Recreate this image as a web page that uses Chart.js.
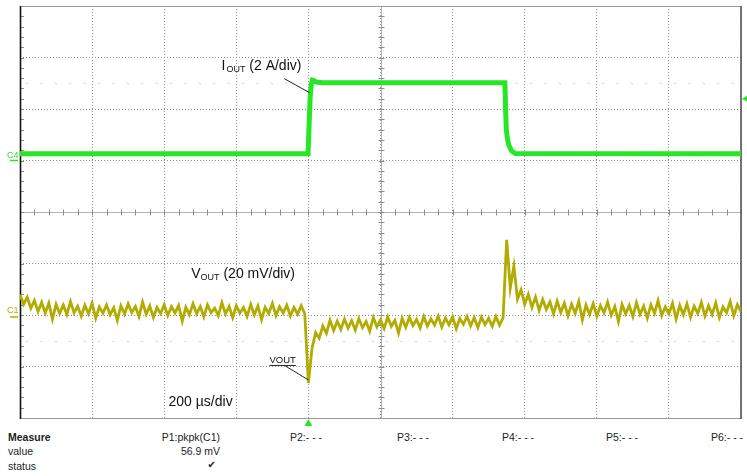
<!DOCTYPE html>
<html lang="en">
  <head>
    <meta charset="utf-8" />
    <title>Load transient</title>
    <script src="https://cdn.jsdelivr.net/npm/chart.js@4.4.1/dist/chart.umd.min.js"></script>
    <style>
      body {
        margin: 0;
        width: 747px;
        height: 476px;
        overflow: hidden;
        position: relative;
        background: #fff;
        font-family: "Liberation Sans", Arial, sans-serif;
      }
      #scope {
        position: absolute;
        left: 0;
        top: 0;
      }
      .m {
        position: absolute;
        font-size: 10.5px;
        line-height: 12px;
        color: #222;
        white-space: nowrap;
      }
      .r { text-align: right; }
    </style>
  </head>
  <body>
    <canvas id="scope" width="747" height="430"></canvas>

    <div class="m" style="left: 8px; top: 431px; font-weight: bold">Measure</div>
    <div class="m" style="left: 8px; top: 445px">value</div>
    <div class="m" style="left: 8px; top: 460px">status</div>
    <div class="m r" style="left: 140px; width: 80px; top: 431px">P1:pkpk(C1)</div>
    <div class="m r" style="left: 140px; width: 80px; top: 445px">56.9 mV</div>
    <div class="m r" style="left: 140px; width: 76px; top: 459px; font-family: 'DejaVu Sans'; font-size: 10px">&#10004;</div>
    <div class="m" style="left: 290px; top: 431px">P2:- - -</div>
    <div class="m" style="left: 397px; top: 431px">P3:- - -</div>
    <div class="m" style="left: 502px; top: 431px">P4:- - -</div>
    <div class="m" style="left: 606px; top: 431px">P5:- - -</div>
    <div class="m" style="left: 711px; top: 431px">P6:- - -</div>

    <script>
      // time base: 200 us/div, 10 div, trigger 4 div from left
      const TIME_MIN = -800;
      const TIME_MAX = 1200;
      const TIME_DIV = 200;
      const SAMPLE_US = 10;
      const TRIG_LEVEL_A = 2.4;

      // C4: output current (A), 2 A/div
      const iOutTimes = [-800, -1, 2, 5, 8, 11, 15, 22, 40, 545, 547, 549, 552, 556, 563, 574, 1200];
      const iOutAmps = [0.26, 0.26, 1.4, 2.5, 2.95, 3.12, 3.1, 3.05, 3.02, 3.02, 2.0, 1.2, 0.85, 0.6, 0.38, 0.27, 0.26];

      // C1: output voltage (mV, ac), 20 mV/div, one sample every 10 us from -800 us
      const vOutMv = [
        8.0, 4.2, 6.9, 2.6, 5.6, 1.4, 4.9, 0.8, 4.6, -1.6,
        4.1, 0.6, 3.9, 0.2, 5.2, 0.9, 3.4, -0.4, 3.8, 0.5,
        4.6, -1.2, 3.1, 0.7, 3.9, 0.1, 2.8, -2.1, 3.6, 0.4,
        4.3, 1.0, 3.3, -0.6, 5.0, 0.3, 3.5, -0.9, 2.9, 0.6,
        4.0, -0.2, 3.2, 0.8, 3.7, -2.4, 3.0, 0.2, 4.4, 0.5,
        3.3, -0.7, 3.9, 0.9, 2.7, -0.3, 4.8, 0.4, 3.4, -1.0,
        3.6, 0.7, 2.9, -0.5, 4.1, 0.1, 3.5, -1.8, 3.0, 0.6,
        4.5, -0.2, 3.2, 0.8, 3.8, -0.4, 2.9, 0.3, 3.6, 0.5,
        -26.4, -13.0, -6.8, -9.0, -4.3, -7.1, -2.0, -6.0, -2.4, -5.6,
        -1.6, -5.1, -2.2, -5.8, -1.4, -4.9, -2.5, -6.3, -1.0, -4.6,
        -1.9, -5.2, -0.8, -4.4, -2.1, -7.0, -1.3, -4.8, -0.9, -4.1,
        -1.7, -5.0, -0.6, -4.3, -1.5, -3.9, -0.4, -4.7, -1.2, -3.8,
        -0.7, -5.3, -1.4, -3.6, -0.5, -4.2, -1.0, -4.9, -0.8, -3.7,
        -1.3, -4.4, -0.6, -3.9, -1.1, 29.2, 10.5, 19.0, 6.2, 9.8,
        4.1, 8.0, 3.0, 6.9, 1.8, 6.0, 2.2, 5.1, 0.4, 5.4,
        1.0, 4.6, -0.3, 4.2, 0.6, 5.3, -1.9, 3.9, 0.2, 4.4,
        -0.5, 3.6, 0.8, 5.0, -0.1, 3.3, -2.6, 4.1, 0.5, 3.7,
        -0.6, 4.8, 0.3, 3.5, -1.2, 4.0, 0.7, 5.6, -0.2, 3.2,
        0.4, 4.5, -1.5, 3.8, 0.1, 4.3, -0.8, 3.4, 0.6, 4.9,
        -0.4, 3.6, 0.2, 4.7, -1.0, 3.1, 0.9, 5.2, -0.3, 4.0,
        1.2
      ];

      const GREEN = "#26e626";
      const OLIVE = "#b2ab00";
      const FONT = '"Liberation Sans", Arial, sans-serif';

      // graticule extras, labels and markers
      const scopeDecor = {
        id: "scopeDecor",
        beforeDatasetsDraw(chart) {
          const { ctx, chartArea: a } = chart;
          const x = chart.scales.x, g = chart.scales.g;
          const cy = Math.round(g.getPixelForValue(4)) + 0.5;
          const cx = Math.round(x.getPixelForValue(TIME_MIN + 5 * TIME_DIV)) + 0.5;
          ctx.save();
          ctx.lineWidth = 1;
          ctx.strokeStyle = "#b4b4b4";
          ctx.beginPath();
          ctx.moveTo(a.left, cy);
          ctx.lineTo(a.right, cy);
          ctx.moveTo(cx, a.top);
          ctx.lineTo(cx, a.bottom);
          ctx.stroke();
          ctx.strokeStyle = "#8c8c8c";
          ctx.beginPath();
          for (let t = TIME_MIN; t <= TIME_MAX; t += TIME_DIV / 5) {
            const px = Math.round(x.getPixelForValue(t)) + 0.5;
            ctx.moveTo(px, cy - 3);
            ctx.lineTo(px, cy + 3);
          }
          for (let k = 0; k <= 40; k++) {
            const py = Math.round(g.getPixelForValue(k / 5)) + 0.5;
            ctx.moveTo(cx - 3, py);
            ctx.lineTo(cx + 3, py);
            ctx.moveTo(a.left, py);
            ctx.lineTo(a.left + 4, py);
          }
          ctx.stroke();
          // faint reference rows
          ctx.strokeStyle = "#cfcfcf";
          ctx.setLineDash([2, 12.4]);
          ctx.beginPath();
          [6.5, 1.5].forEach((d) => {
            const py = Math.round(g.getPixelForValue(d)) + 0.5;
            ctx.moveTo(a.left + 6, py);
            ctx.lineTo(a.right, py);
          });
          ctx.stroke();
          ctx.setLineDash([]);
          // frame
          ctx.strokeStyle = "#9a9a9a";
          ctx.beginPath();
          ctx.moveTo(a.left, a.top + 0.5);
          ctx.lineTo(a.right, a.top + 0.5);
          ctx.moveTo(a.left, a.bottom + 0.5);
          ctx.lineTo(a.right, a.bottom + 0.5);
          ctx.stroke();
          ctx.lineWidth = 1.6;
          ctx.strokeStyle = "#111";
          ctx.beginPath();
          ctx.moveTo(a.left + 0.5, a.top);
          ctx.lineTo(a.left + 0.5, a.bottom + 1);
          ctx.stroke();
          ctx.strokeStyle = "#555";
          ctx.beginPath();
          ctx.moveTo(a.right, a.top);
          ctx.lineTo(a.right, a.bottom + 1);
          ctx.stroke();
          ctx.restore();
        },
        afterDatasetsDraw(chart) {
          const { ctx, chartArea: a } = chart;
          const x = chart.scales.x, g = chart.scales.g;
          const yI = chart.scales.yI, yV = chart.scales.yV;
          const X = (t) => x.getPixelForValue(t);
          const Y = (d) => g.getPixelForValue(d);
          ctx.save();
          ctx.fillStyle = "#111";
          ctx.textAlign = "left";
          ctx.textBaseline = "alphabetic";

          // I_OUT (2 A/div)
          let px = X(-241), py = Y(6.765);
          ctx.font = "14px " + FONT;
          ctx.fillText("I", px, py);
          px += ctx.measureText("I").width + 1;
          ctx.font = "9px " + FONT;
          ctx.fillText("OUT", px, py + 2.5);
          px += ctx.measureText("OUT").width;
          ctx.font = "14px " + FONT;
          ctx.fillText(" (2 A/div)", px, py);

          // V_OUT (20 mV/div)
          px = X(-325);
          py = Y(2.722);
          ctx.fillText("V", px, py);
          px += ctx.measureText("V").width;
          ctx.font = "9px " + FONT;
          ctx.fillText("OUT", px, py + 2.5);
          px += ctx.measureText("OUT").width;
          ctx.font = "14px " + FONT;
          ctx.fillText(" (20 mV/div)", px, py);

          // time base
          ctx.fillText("200 \u00b5s/div", X(-388), Y(0.233));

          // small VOUT tag with underline
          ctx.font = "9.5px " + FONT;
          px = X(-108);
          py = Y(1.069);
          ctx.fillText("VOUT", px, py);
          const w = ctx.measureText("VOUT").width;
          ctx.strokeStyle = "#222";
          ctx.lineWidth = 1;
          ctx.beginPath();
          ctx.moveTo(px, py + 2.5);
          ctx.lineTo(px + w, py + 2.5);
          ctx.moveTo(X(-64), Y(1.011));
          ctx.lineTo(X(0), Y(0.739));
          ctx.moveTo(X(-67), Y(6.59));
          ctx.lineTo(X(3), Y(6.318));
          ctx.stroke();

          // channel ground markers
          ctx.font = "9px " + FONT;
          ctx.lineWidth = 1.5;
          ctx.fillStyle = GREEN;
          ctx.strokeStyle = GREEN;
          let gy = yI.getPixelForValue(0);
          ctx.fillText("C4", 7, gy - 3);
          ctx.beginPath();
          ctx.moveTo(10, gy);
          ctx.lineTo(18, gy);
          ctx.stroke();
          ctx.fillStyle = OLIVE;
          ctx.strokeStyle = OLIVE;
          gy = yV.getPixelForValue(0);
          ctx.fillText("C1", 7, gy - 2);
          ctx.beginPath();
          ctx.moveTo(10, gy + 2);
          ctx.lineTo(18, gy + 2);
          ctx.stroke();

          // trigger position and level
          ctx.fillStyle = GREEN;
          const tx = X(0);
          ctx.beginPath();
          ctx.moveTo(tx, a.bottom + 1);
          ctx.lineTo(tx + 4, a.bottom + 8);
          ctx.lineTo(tx - 4, a.bottom + 8);
          ctx.closePath();
          ctx.fill();
          const ty = yI.getPixelForValue(TRIG_LEVEL_A);
          ctx.beginPath();
          ctx.moveTo(a.right + 1, ty);
          ctx.lineTo(a.right + 7, ty - 3.5);
          ctx.lineTo(a.right + 7, ty + 3.5);
          ctx.closePath();
          ctx.fill();
          ctx.restore();
        },
      };

      const dotted = { color: "#8e8e8e", lineWidth: 1, drawTicks: false };

      new Chart(document.getElementById("scope").getContext("2d"), {
        type: "line",
        data: {
          datasets: [
            {
              label: "IOUT",
              data: iOutTimes.map((t, k) => ({ x: t, y: iOutAmps[k] })),
              yAxisID: "yI",
              borderColor: GREEN,
              borderWidth: 5,
              pointRadius: 0,
              borderCapStyle: "butt",
            },
            {
              label: "VOUT",
              data: vOutMv.map((v, k) => ({ x: TIME_MIN + k * SAMPLE_US, y: v })),
              yAxisID: "yV",
              borderColor: OLIVE,
              borderWidth: 2.8,
              borderJoinStyle: "miter",
              pointRadius: 0,
            },
          ],
        },
        options: {
          responsive: false,
          animation: false,
          devicePixelRatio: 1,
          layout: { padding: { left: 20, right: 6, top: 6, bottom: 12 } },
          plugins: { legend: { display: false }, tooltip: { enabled: false } },
          scales: {
            x: {
              type: "linear",
              min: TIME_MIN,
              max: TIME_MAX,
              ticks: { display: false, stepSize: TIME_DIV },
              grid: dotted,
              border: { display: false, dash: [1, 2] },
            },
            g: {
              type: "linear",
              position: "left",
              min: 0,
              max: 8,
              ticks: { display: false, stepSize: 1 },
              grid: dotted,
              border: { display: false, dash: [1, 2] },
            },
            yI: { type: "linear", display: false, min: -10, max: 6 },
            yV: { type: "linear", display: false, min: -40, max: 120 },
          },
        },
        plugins: [scopeDecor],
      });
    </script>
  </body>
</html>
